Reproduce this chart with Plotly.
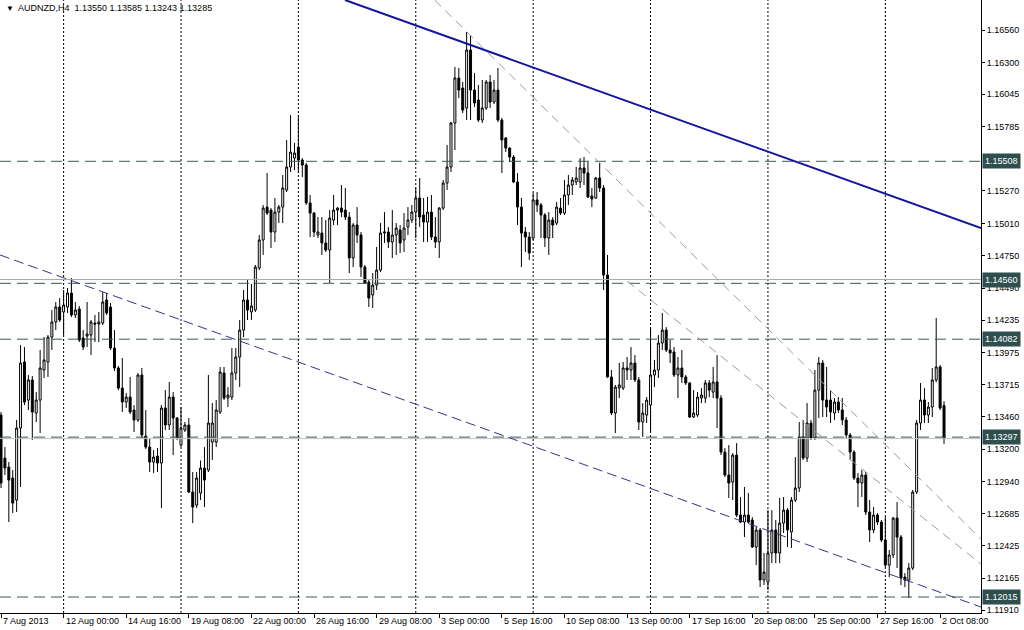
import plotly.graph_objects as go

symbol_title = "AUDNZD,H4  1.13550 1.13585 1.13243 1.13285"

opens = [1.13474,1.13129,1.13057,1.12969,1.12792,1.13370,1.13899,1.13594,1.13755,1.13490,
1.13594,1.13835,1.13899,1.14099,1.14220,1.14340,1.14300,1.14340,1.14452,1.14276,
1.14324,1.14091,1.14107,1.14115,1.14211,1.14203,1.14211,1.14396,1.14340,1.14011,
1.13851,1.13690,1.13578,1.13618,1.13514,1.13434,1.13795,1.13306,1.13217,1.13097,
1.13145,1.13089,1.13530,1.13394,1.13618,1.13450,1.13233,1.13354,1.13394,1.12857,
1.12752,1.12849,1.13049,1.13033,1.13257,1.13257,1.13498,1.13811,1.13610,1.13618,
1.13811,1.13939,1.14155,1.14396,1.14300,1.14316,1.14652,1.14877,1.15141,1.15117,
1.14941,1.15101,1.15141,1.15278,1.15462,1.15534,1.15622,1.15518,1.15478,1.15174,
1.15093,1.14917,1.14933,1.14853,1.14797,1.15037,1.15117,1.15133,1.15117,1.15061,
1.14733,1.14997,1.14917,1.14660,1.14540,1.14436,1.14516,1.14636,1.14933,1.14941,
1.14861,1.14917,1.14957,1.14877,1.14981,1.15037,1.15101,1.15214,1.15077,1.15021,
1.15101,1.14901,1.14861,1.15133,1.15334,1.15462,1.15815,1.16176,1.16095,1.15935,
1.16400,1.16079,1.15999,1.15839,1.15935,1.16144,1.15983,1.16079,1.15839,1.15695,
1.15614,1.15542,1.15342,1.15141,1.14941,1.14901,1.14893,1.15198,1.15158,1.15077,
1.14893,1.15037,1.15013,1.15133,1.15093,1.15238,1.15318,1.15342,1.15342,1.15454,
1.15414,1.15230,1.15214,1.15374,1.15294,1.14596,1.13779,1.13490,1.13690,1.13690,
1.13851,1.13835,1.13891,1.13755,1.13418,1.13474,1.13554,1.13795,1.13835,1.14051,
1.14155,1.13995,1.13979,1.13795,1.13851,1.13779,1.13731,1.13458,1.13474,1.13610,
1.13610,1.13731,1.13658,1.13739,1.13610,1.13177,1.12993,1.12937,1.13153,1.12672,
1.12616,1.12672,1.12632,1.12416,1.12552,1.12151,1.12135,1.12368,1.12552,1.12368,
1.12608,1.12712,1.12536,1.12792,1.12889,1.13298,1.13129,1.13410,1.13290,1.13674,
1.13891,1.13594,1.13594,1.13490,1.13578,1.13514,1.13434,1.13314,1.13177,1.12969,
1.12929,1.12993,1.12696,1.12552,1.12672,1.12616,1.12472,1.12271,1.12352,1.12648,
1.12496,1.12175,1.12151,1.12247,1.12857,1.13410,1.13594,1.13474,1.13538,1.13755,
1.13859,1.13550]

highs = [1.13498,1.13217,1.13097,1.13033,1.13434,1.14035,1.14019,1.13795,1.13787,1.13658,
1.13995,1.14099,1.14115,1.14316,1.14380,1.14412,1.14476,1.14492,1.14572,1.14380,
1.14348,1.14155,1.14380,1.14236,1.14276,1.14300,1.14460,1.14452,1.14372,1.14155,
1.13867,1.13931,1.13650,1.13779,1.13554,1.13811,1.13851,1.13514,1.13290,1.13193,
1.13209,1.13554,1.13674,1.13739,1.13658,1.13458,1.13538,1.13418,1.13450,1.13017,
1.13017,1.13110,1.13217,1.13795,1.13570,1.13594,1.13859,1.13859,1.13698,1.14011,
1.14011,1.14236,1.14476,1.14556,1.14524,1.14677,1.14917,1.15158,1.15414,1.15133,
1.15214,1.15158,1.15398,1.15679,1.15879,1.15655,1.15879,1.15534,1.15494,1.15238,
1.15101,1.15061,1.15061,1.15037,1.15117,1.15238,1.15141,1.15318,1.15294,1.15101,
1.15013,1.15141,1.14941,1.14677,1.14556,1.14612,1.14821,1.15013,1.15101,1.14981,
1.15117,1.15013,1.14997,1.15093,1.15141,1.15158,1.15294,1.15374,1.15214,1.15222,
1.15238,1.15061,1.15141,1.15358,1.15639,1.15823,1.16264,1.16256,1.16144,1.16544,
1.16520,1.16216,1.16120,1.16160,1.16160,1.16200,1.16160,1.16256,1.15855,1.15703,
1.15622,1.15558,1.15414,1.15214,1.14981,1.14941,1.15254,1.15262,1.15174,1.15093,
1.15101,1.15061,1.15182,1.15214,1.15358,1.15398,1.15382,1.15462,1.15534,1.15542,
1.15502,1.15294,1.15382,1.15494,1.15318,1.14757,1.13835,1.13715,1.13891,1.13899,
1.13939,1.14019,1.13955,1.13779,1.13570,1.13618,1.14179,1.13915,1.14115,1.14292,
1.14179,1.14075,1.14019,1.13939,1.13995,1.13795,1.13739,1.13674,1.13658,1.13690,
1.13755,1.13755,1.13859,1.13955,1.13634,1.13209,1.13233,1.13169,1.13249,1.12817,
1.12897,1.12849,1.12656,1.12576,1.12568,1.12368,1.12712,1.12712,1.12632,1.12809,
1.12817,1.12728,1.12817,1.13137,1.13418,1.13434,1.13570,1.13434,1.13835,1.13939,
1.13915,1.13859,1.13674,1.13610,1.13618,1.13610,1.13458,1.13330,1.13193,1.13009,
1.13033,1.13017,1.12792,1.12736,1.12688,1.12632,1.12656,1.12392,1.12656,1.12776,
1.12512,1.12207,1.12287,1.12873,1.13434,1.13731,1.13690,1.13578,1.13851,1.14252,
1.13875,1.13585]

lows = [1.12889,1.12993,1.12616,1.12688,1.12696,1.12897,1.13554,1.13514,1.13274,1.13418,
1.13330,1.13771,1.13779,1.13995,1.14155,1.14220,1.14115,1.14292,1.14260,1.14252,
1.14059,1.13995,1.14019,1.13955,1.14059,1.14059,1.14195,1.14276,1.13995,1.13827,
1.13674,1.13498,1.13530,1.13482,1.13338,1.13418,1.13290,1.13201,1.13017,1.13009,
1.13017,1.12728,1.13354,1.13354,1.13153,1.13274,1.13217,1.13338,1.12849,1.12608,
1.12728,1.12792,1.12736,1.13017,1.13113,1.13217,1.13482,1.13594,1.13538,1.13594,
1.13755,1.13698,1.14099,1.14236,1.14236,1.14300,1.14636,1.14757,1.15077,1.14813,
1.14861,1.15013,1.15013,1.15262,1.15422,1.15438,1.15414,1.15382,1.15158,1.14901,
1.14901,1.14893,1.14757,1.14781,1.14532,1.14997,1.14997,1.15061,1.15037,1.14612,
1.14660,1.14853,1.14580,1.14524,1.14340,1.14332,1.14476,1.14620,1.14853,1.14813,
1.14733,1.14757,1.14773,1.14781,1.14917,1.15013,1.14893,1.14981,1.14861,1.14861,
1.14877,1.14813,1.14733,1.15117,1.15278,1.15422,1.15598,1.16015,1.15895,1.15839,
1.15839,1.15943,1.15823,1.15815,1.15919,1.15935,1.15967,1.15823,1.15414,1.15582,
1.15502,1.15334,1.14997,1.14660,1.14781,1.14717,1.14877,1.15101,1.14893,1.14821,
1.14757,1.14893,1.14997,1.15077,1.15077,1.15158,1.15238,1.15318,1.15294,1.15318,
1.15214,1.15141,1.15206,1.15262,1.14476,1.13771,1.13474,1.13330,1.13610,1.13674,
1.13755,1.13755,1.13739,1.13354,1.13298,1.13410,1.13338,1.13698,1.13771,1.13995,
1.13979,1.13891,1.13779,1.13610,1.13731,1.13715,1.13450,1.13450,1.13458,1.13570,
1.13570,1.13618,1.13610,1.13370,1.13153,1.12977,1.12809,1.12792,1.12656,1.12608,
1.12496,1.12608,1.12408,1.12271,1.12095,1.12111,1.12071,1.12287,1.12287,1.12287,
1.12528,1.12416,1.12408,1.12776,1.12857,1.13113,1.13097,1.13274,1.13274,1.13450,
1.13458,1.13458,1.13410,1.13434,1.13490,1.13394,1.13290,1.13113,1.12953,1.12736,
1.12817,1.12672,1.12456,1.12528,1.12592,1.12456,1.12255,1.12175,1.12328,1.12247,
1.12111,1.12095,1.12007,1.12231,1.12841,1.13354,1.13410,1.13410,1.13458,1.13739,
1.13514,1.13243]

closes = [1.12929,1.13049,1.12953,1.12768,1.13370,1.13891,1.13578,1.13755,1.13498,1.13594,
1.13851,1.13915,1.14099,1.14220,1.14340,1.14236,1.14356,1.14452,1.14276,1.14316,
1.14075,1.14019,1.14123,1.14220,1.14203,1.14220,1.14380,1.14292,1.14011,1.13851,
1.13690,1.13578,1.13618,1.13498,1.13434,1.13795,1.13314,1.13217,1.13097,1.13137,
1.13089,1.13530,1.13394,1.13618,1.13450,1.13290,1.13370,1.13394,1.12857,1.12736,
1.12969,1.13049,1.12953,1.13410,1.13410,1.13514,1.13819,1.13610,1.13634,1.13811,
1.13939,1.14155,1.14396,1.14316,1.14348,1.14660,1.14877,1.15133,1.15093,1.14941,
1.15101,1.15141,1.15294,1.15462,1.15582,1.15574,1.15518,1.15478,1.15174,1.15093,
1.14941,1.14941,1.14853,1.14797,1.15053,1.15117,1.15133,1.15101,1.15061,1.14733,
1.14997,1.14917,1.14660,1.14532,1.14412,1.14516,1.14636,1.14933,1.14941,1.14861,
1.14917,1.14973,1.14853,1.14973,1.15037,1.15101,1.15214,1.15061,1.15021,1.15101,
1.14901,1.14861,1.15133,1.15334,1.15462,1.15815,1.16176,1.16079,1.15919,1.16400,
1.16079,1.15975,1.15839,1.15935,1.16144,1.15983,1.16079,1.15839,1.15679,1.15614,
1.15542,1.15342,1.15141,1.14933,1.14901,1.14773,1.15198,1.15158,1.15077,1.14893,
1.15037,1.14997,1.15141,1.15093,1.15238,1.15318,1.15358,1.15374,1.15454,1.15414,
1.15222,1.15206,1.15374,1.15294,1.14596,1.13779,1.13490,1.13698,1.13715,1.13851,
1.13835,1.13891,1.13755,1.13418,1.13490,1.13594,1.13795,1.13835,1.14051,1.14155,
1.13995,1.13971,1.13795,1.13851,1.13779,1.13731,1.13458,1.13490,1.13618,1.13634,
1.13731,1.13674,1.13739,1.13610,1.13177,1.12993,1.12929,1.13153,1.12672,1.12616,
1.12672,1.12616,1.12416,1.12552,1.12151,1.12215,1.12368,1.12552,1.12368,1.12608,
1.12712,1.12552,1.12792,1.12889,1.13298,1.13129,1.13410,1.13290,1.13674,1.13891,
1.13594,1.13538,1.13498,1.13578,1.13514,1.13434,1.13314,1.13177,1.12969,1.12929,
1.12993,1.12696,1.12552,1.12672,1.12616,1.12472,1.12271,1.12352,1.12648,1.12496,
1.12167,1.12151,1.12247,1.12857,1.13410,1.13594,1.13474,1.13538,1.13755,1.13859,
1.13530,1.13285]

bar_index = list(range(len(closes)))

time_label_bars = [0, 16, 32, 48, 64, 80, 96, 112, 128, 144, 160, 176, 192, 208, 224, 240]
time_labels = ["7 Aug 2013", "12 Aug 00:00", "14 Aug 16:00", "19 Aug 08:00", "22 Aug 00:00",
               "26 Aug 16:00", "29 Aug 08:00", "3 Sep 00:00", "5 Sep 16:00", "10 Sep 08:00",
               "13 Sep 00:00", "17 Sep 16:00", "20 Sep 08:00", "25 Sep 00:00", "27 Sep 16:00",
               "2 Oct 08:00"]
week_start_bars = [16, 46, 76, 106, 136, 166, 196, 226]

price_ticks = [1.16560, 1.16300, 1.16045, 1.15785, 1.15270, 1.15010, 1.14750, 1.14490,
               1.14235, 1.13975, 1.13715, 1.13460, 1.13200, 1.12940, 1.12685, 1.12425, 1.12165,
               1.11910]

level_prices = [1.15508, 1.14530, 1.14082, 1.13297, 1.12015]
level_labels = [1.15508, 1.14560, 1.14082, 1.13297, 1.12015]
solid_level = 1.14560
bid_price = 1.13285

blue_trend = [(87.9, 1.16801), (250.45, 1.14973)]
blue_channel = [(-0.26, 1.14757), (250.45, 1.11935)]
gray_trend_1 = [(110.8, 1.16801), (250.45, 1.12480)]
gray_trend_2 = [(160.0, 1.14548), (250.45, 1.12279)]

x_range = [-0.2556, 250.45]
y_range = [1.11887, 1.16801]

FONT = "Liberation Sans, Arial, sans-serif"

fig = go.Figure()
fig.add_trace(go.Candlestick(
    x=bar_index, open=opens, high=highs, low=lows, close=closes,
    increasing=dict(line=dict(color="black", width=1), fillcolor="white"),
    decreasing=dict(line=dict(color="black", width=1), fillcolor="black"),
    whiskerwidth=0, hoverinfo="skip", showlegend=False,
))

shapes = []
for b in week_start_bars:
    shapes.append(dict(type="line", xref="x", yref="paper", x0=b, x1=b, y0=0, y1=1,
                       line=dict(color="black", width=1, dash="2px,2px"), layer="below"))
shapes.append(dict(type="line", xref="paper", yref="y", x0=0, x1=1, y0=solid_level, y1=solid_level,
                   line=dict(color="#a8a8a8", width=1), layer="above"))
shapes.append(dict(type="line", xref="paper", yref="y", x0=0, x1=1, y0=bid_price, y1=bid_price,
                   line=dict(color="#c0c0c0", width=1), layer="above"))
for p in level_prices:
    shapes.append(dict(type="line", xref="paper", yref="y", x0=0, x1=1, y0=p, y1=p,
                       line=dict(color="#3f5757", width=1, dash="11px,6px"), layer="above"))
for pts, col, w, dash in [(gray_trend_1, "#9c9c9c", 1, "9px,6px"),
                          (gray_trend_2, "#9c9c9c", 1, "9px,6px"),
                          (blue_channel, "#34348c", 1, "10px,5px"),
                          (blue_trend, "#1414a0", 2, "solid")]:
    shapes.append(dict(type="line", xref="x", yref="y", x0=pts[0][0], y0=pts[0][1],
                       x1=pts[1][0], y1=pts[1][1], line=dict(color=col, width=w, dash=dash),
                       layer="above"))

annotations = []
for b, t in zip(time_label_bars, time_labels):
    annotations.append(dict(x=b, xref="x", y=0, yref="paper", text=t, showarrow=False,
                            xanchor="left", yanchor="top", yshift=-1, xshift=0,
                            font=dict(family=FONT, size=9, color="black")))
for p in level_labels:
    annotations.append(dict(x=1, xref="paper", y=p, yref="y", text=f"{p:.5f}", showarrow=False,
                            xanchor="left", yanchor="middle", xshift=1,
                            bgcolor="#2f4f4f", borderpad=2,
                            font=dict(family=FONT, size=9, color="white")))
annotations.append(dict(x=4 / 981, xref="paper", y=1, yref="paper", text="▼", showarrow=False,
                        xanchor="left", yanchor="top", yshift=-2,
                        font=dict(family=FONT, size=8, color="black")))
annotations.append(dict(x=16 / 981, xref="paper", y=1, yref="paper", text=symbol_title,
                        showarrow=False, xanchor="left", yanchor="top", yshift=-1,
                        font=dict(family=FONT, size=9, color="black")))

fig.update_layout(
    width=1024, height=630,
    margin=dict(l=0, r=43, t=0, b=17),
    paper_bgcolor="white", plot_bgcolor="white",
    boxgap=0.28,
    shapes=shapes, annotations=annotations,
    showlegend=False,
    font=dict(family=FONT, size=9, color="black"),
    xaxis=dict(range=x_range, rangeslider=dict(visible=False), showgrid=False, zeroline=False,
               tickmode="array", tickvals=time_label_bars, showticklabels=False,
               ticks="outside", ticklen=4, tickcolor="black",
               showline=True, linecolor="black", linewidth=1, fixedrange=True),
    yaxis=dict(range=y_range, side="right", showgrid=False, zeroline=False,
               tickmode="array", tickvals=price_ticks, ticktext=[f"{v:.5f}" for v in price_ticks],
               ticks="outside", ticklen=3, tickcolor="black",
               tickfont=dict(family=FONT, size=9, color="black"),
               showline=True, linecolor="black", linewidth=1, fixedrange=True),
)

fig.write_html(
    "out.html",
    config={"displayModeBar": False, "staticPlot": True},
    post_script="document.body.style.margin='0';document.body.style.padding='0';"
                "document.body.style.overflow='hidden';",
)
